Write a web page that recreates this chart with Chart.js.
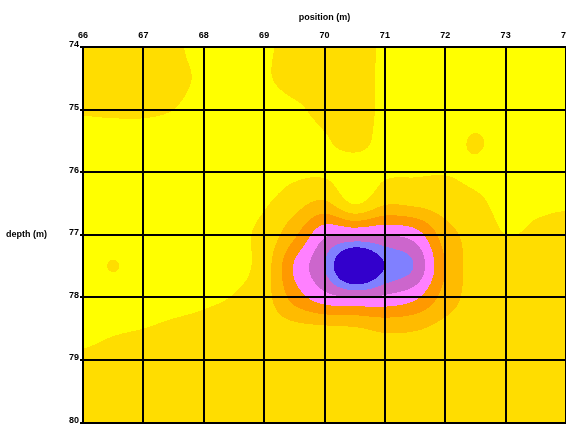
<!DOCTYPE html>
<html>
<head>
<meta charset="utf-8">
<script src="https://cdn.jsdelivr.net/npm/chart.js@4.4.0/dist/chart.umd.min.js"></script>
<style>
  html, body { margin: 0; padding: 0; background: #fff; overflow: hidden; }
</style>
</head>
<body>
<canvas id="myChart" width="580" height="429"></canvas>
<script>
// grid node positions (m)
const xNodes = [66, 66.5, 67, 67.5, 68, 68.5, 69, 69.5, 70, 70.5, 71, 71.5, 72, 72.5, 73, 73.5, 74];
const yNodes = [74, 74.5, 75, 75.5, 76, 76.5, 77, 77.5, 78, 78.5, 79, 79.5, 80];

// measured value at each node, one row per yNodes entry
const field = [
  [1.5, 1.5, 1.5, 1.2, 0.6, 0.4, 0.8, 1.4, 1.5, 1.4, 0.85, 0.5, 0.5, 0.5, 0.5, 0.5, 0.5],
  [1.5, 1.5, 1.5, 1.3, 0.8, 0.5, 0.85, 1.4, 1.5, 1.4, 0.8, 0.5, 0.5, 0.5, 0.5, 0.5, 0.5],
  [1.1, 1.15, 1.15, 1.0, 0.6, 0.5, 0.5, 0.8, 1.3, 1.4, 0.8, 0.5, 0.5, 0.5, 0.5, 0.5, 0.5],
  [0.6, 0.6, 0.6, 0.55, 0.5, 0.5, 0.5, 0.5, 0.9, 1.3, 0.7, 0.5, 0.5, 1.1, 0.5, 0.5, 0.5],
  [0.5, 0.5, 0.5, 0.5, 0.5, 0.5, 0.5, 0.8, 0.85, 0.5, 0.85, 0.9, 0.95, 0.8, 0.55, 0.5, 0.5],
  [0.5, 0.5, 0.5, 0.5, 0.55, 0.7, 0.9, 1.6, 2.2, 0.95, 1.9, 1.8, 1.5, 1.2, 0.75, 0.85, 0.9],
  [0.5, 0.5, 0.5, 0.5, 0.6, 0.8, 1.3, 2.8, 4.8, 5.0, 5.0, 4.5, 2.5, 1.6, 1.0, 1.15, 1.3],
  [0.5, 1.05, 0.5, 0.5, 0.6, 0.7, 1.5, 4.1, 6.0, 9.0, 7.0, 5.9, 3.0, 1.6, 1.5, 1.5, 1.5],
  [0.5, 0.5, 0.6, 0.7, 0.85, 1.05, 1.6, 3.4, 4.6, 5.0, 4.8, 4.2, 2.6, 1.6, 1.5, 1.5, 1.5],
  [0.75, 0.9, 1.0, 1.15, 1.25, 1.4, 1.5, 1.7, 1.8, 1.9, 2.2, 2.1, 1.7, 1.5, 1.5, 1.5, 1.5],
  [1.15, 1.3, 1.5, 1.5, 1.5, 1.5, 1.5, 1.5, 1.5, 1.5, 1.5, 1.5, 1.5, 1.5, 1.5, 1.5, 1.5],
  [1.5, 1.5, 1.5, 1.5, 1.5, 1.5, 1.5, 1.5, 1.5, 1.5, 1.5, 1.5, 1.5, 1.5, 1.5, 1.5, 1.5],
  [1.5, 1.5, 1.5, 1.5, 1.5, 1.5, 1.5, 1.5, 1.5, 1.5, 1.5, 1.5, 1.5, 1.5, 1.5, 1.5, 1.5],
];

// contour levels and tick labels
const levels = [1, 2, 3, 4, 5, 6, 7];
const xTickLabels = ["66", "67", "68", "69", "70", "71", "72", "73", "74"];
const yTickLabels = ["74", "75", "76", "77", "78", "79", "80"];

// fill colour of each band (below first level ... above last level)
const bandColors = [
  [255, 255, 0],
  [255, 221, 0],
  [255, 187, 0],
  [255, 153, 0],
  [255, 128, 255],
  [204, 102, 204],
  [128, 128, 255],
  [51, 0, 204],
];

const labelFont = { family: "'Liberation Sans', Arial, sans-serif", size: 9, weight: "bold" };

// catmull-rom along one direction
const cr = function (p0, p1, p2, p3, t) {
  return 0.5 * (2 * p1 + (p2 - p0) * t +
    (2 * p0 - 5 * p1 + 4 * p2 - p3) * t * t +
    (3 * p1 - p0 - 3 * p2 + p3) * t * t * t);
};

// value at (x, y) from the node grid
const sample = function (xv, yv) {
  const nx = xNodes.length, ny = yNodes.length;
  let u = (xv - xNodes[0]) / (xNodes[1] - xNodes[0]);
  let w = (yv - yNodes[0]) / (yNodes[1] - yNodes[0]);
  u = Math.min(Math.max(u, 0), nx - 1.0001);
  w = Math.min(Math.max(w, 0), ny - 1.0001);
  const i = Math.floor(u), j = Math.floor(w);
  const tu = u - i, tw = w - j;
  const cl = (k, n) => Math.min(Math.max(k, 0), n - 1);
  const rows = [];
  for (let r = -1; r <= 2; r++) {
    const row = field[cl(j + r, ny)];
    rows.push(cr(row[cl(i - 1, nx)], row[cl(i, nx)], row[cl(i + 1, nx)], row[cl(i + 2, nx)], tu));
  }
  return cr(rows[0], rows[1], rows[2], rows[3], tw);
};

// paints the filled contour bands inside the chart area
const contourFill = {
  id: "contourFill",
  beforeDatasetsDraw(chart) {
    const { ctx, chartArea: a, scales } = chart;
    const left = Math.round(a.left), top = Math.round(a.top);
    const w = Math.round(a.right) - left, h = Math.round(a.bottom) - top;
    const img = ctx.createImageData(w, h);
    for (let j = 0; j < h; j++) {
      const yv = scales.y.getValueForPixel(top + j + 0.5);
      for (let i = 0; i < w; i++) {
        const xv = scales.x.getValueForPixel(left + i + 0.5);
        const v = sample(xv, yv);
        let b = 0;
        while (b < levels.length && v >= levels[b]) b++;
        const c = bandColors[b];
        const k = (j * w + i) * 4;
        img.data[k] = c[0];
        img.data[k + 1] = c[1];
        img.data[k + 2] = c[2];
        img.data[k + 3] = 255;
      }
    }
    ctx.putImageData(img, left, top);
  },
  afterDraw(chart) {
    // horizontal title beside the left axis
    const { ctx, scales } = chart;
    ctx.save();
    ctx.font = "bold 9px 'Liberation Sans', Arial, sans-serif";
    ctx.fillStyle = "#000";
    ctx.textAlign = "left";
    ctx.textBaseline = "middle";
    ctx.fillText("depth (m)", 6, scales.y.getPixelForValue(77));
    ctx.restore();
  },
};

// grid nodes as an invisible dataset
const nodes = [];
yNodes.forEach((yv, j) => xNodes.forEach((xv, i) => nodes.push({ x: xv, y: yv, v: field[j][i] })));

const ctx = document.getElementById("myChart").getContext("2d");
const myChart = new Chart(ctx, {
  type: "scatter",
  data: {
    datasets: [{ label: "nodes", data: nodes, pointRadius: 0, pointHoverRadius: 0 }],
  },
  plugins: [contourFill],
  options: {
    responsive: false,
    animation: false,
    events: [],
    layout: { padding: { left: 0, right: 14, top: 0, bottom: 0 } },
    plugins: { legend: { display: false }, tooltip: { enabled: false } },
    scales: {
      x: {
        type: "linear",
        position: "top",
        min: 66,
        max: 74,
        ticks: {
          stepSize: 1,
          color: "#000",
          font: labelFont,
          padding: 6,
          maxRotation: 0,
          autoSkip: false,
          callback: (v) => xTickLabels[Math.round(v - 66)],
        },
        grid: { color: "#000", lineWidth: 2, z: 1, drawTicks: false },
        border: { color: "#000", width: 2, z: 1 },
        title: { display: true, text: "position (m)", color: "#000", font: labelFont, padding: { top: 12, bottom: 4 } },
        afterFit: (s) => { s.height = 47; },
      },
      y: {
        type: "linear",
        reverse: true,
        min: 74,
        max: 80,
        ticks: {
          stepSize: 1,
          color: "#000",
          font: labelFont,
          padding: 1,
          labelOffset: -2,
          callback: (v) => yTickLabels[Math.round(v - 74)],
        },
        grid: { color: "#000", lineWidth: 2, z: 1, tickLength: 3 },
        border: { color: "#000", width: 2, z: 1 },
        afterFit: (s) => { s.width = 83; },
      },
    },
  },
});
</script>
</body>
</html>
